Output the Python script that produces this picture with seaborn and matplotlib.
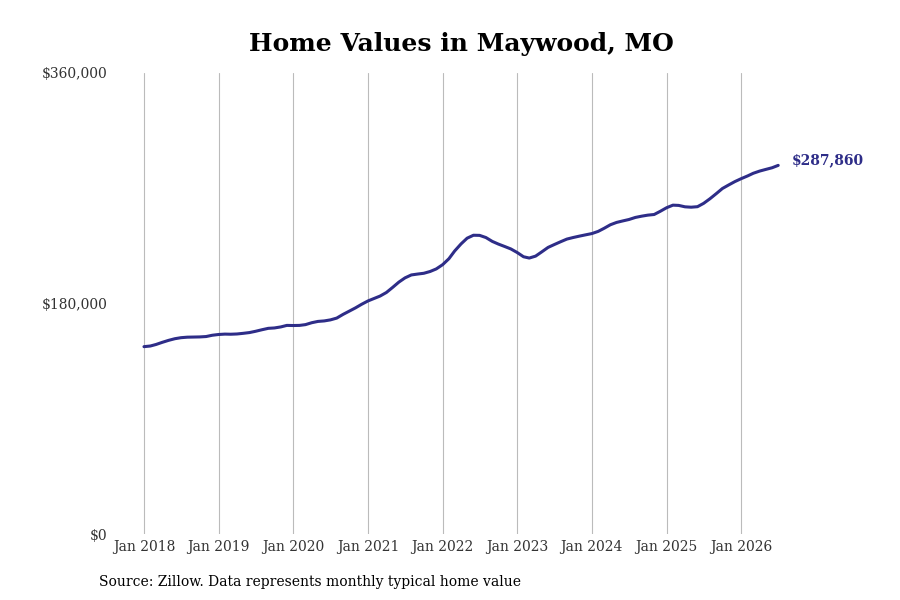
import matplotlib
matplotlib.use("Agg")
import matplotlib.pyplot as plt
import matplotlib.ticker as mticker
import seaborn as sns
import pandas as pd

start_month = "2018-01-01"
values = [
    146300, 146800, 148000, 149700, 151200, 152500, 153300, 153700, 153800, 153900, 154200, 155200,
    155800, 156100, 156000, 156200, 156700, 157300, 158300, 159500, 160600, 160900, 161700, 162900,
    162800, 162900, 163500, 165000, 166000, 166400, 167200, 168600, 171500, 174000, 176600, 179400,
    182000, 184000, 185800, 188600, 192500, 196700, 200000, 202300, 203000, 203600, 205000, 207000,
    210300, 215000, 221000, 226500, 231000, 233300, 233200, 231500, 228500, 226400, 224500, 222600,
    219800, 216500, 215500, 217000, 220300, 223800, 226000, 228200, 230300, 231500, 232600, 233600,
    234600, 236300, 238700, 241500, 243300, 244500, 245600, 247200, 248200, 249000, 249500, 252000,
    254800, 256800, 256600, 255500, 255200, 255600, 258200, 261800, 265800, 269800, 272600, 275200,
    277500, 279600, 281700, 283400, 284700, 286000, 287860,
]
tick_years = list(range(2018, 2027))
tick_labels = [f"Jan {y}" for y in tick_years]
y_ticks = [0, 180000, 360000]
title = "Home Values in Maywood, MO"
source = "Source: Zillow. Data represents monthly typical home value"
end_label = "$287,860"

dates = pd.date_range(start_month, periods=len(values), freq="MS")
df = pd.DataFrame({"date": dates, "value": values})

sns.set_theme(style="white")
plt.rcParams["font.family"] = ["DejaVu Serif"]

line_color = "#2e2d88"
fig = plt.figure(figsize=(9, 6), dpi=100)
ax = fig.add_axes([117 / 900, 66 / 600, (880 - 117) / 900, (534 - 73) / 600])

sns.lineplot(data=df, x="date", y="value", ax=ax, color=line_color, linewidth=2.2)

ax.set_ylim(0, 360000)
ax.set_xlim(pd.Timestamp("2017-08-22"), pd.Timestamp("2027-11-11"))
ax.set_yticks(y_ticks)
ax.yaxis.set_major_formatter(mticker.FuncFormatter(lambda v, p: f"${v:,.0f}"))
ax.set_xticks([pd.Timestamp(f"{y}-01-01") for y in tick_years])
ax.set_xticklabels(tick_labels)
ax.tick_params(axis="both", labelsize=10, labelcolor="#333333", length=0)
ax.tick_params(axis="x", pad=4)
ax.tick_params(axis="y", pad=7)
ax.set_xlabel("")
ax.set_ylabel("")
ax.grid(axis="x", color="#bbbbbb", linewidth=0.8)
ax.grid(axis="y", visible=False)
for s in ax.spines.values():
    s.set_visible(False)

ax.annotate(end_label, xy=(dates[-1], values[-1]), xytext=(10, 4), textcoords="offset points",
            color=line_color, fontsize=10, fontweight="bold", va="center", ha="left")

fig.text(461 / 900, 0.927, title, ha="center", va="center", fontsize=18, fontweight="bold", color="black")
fig.text(99 / 900, 1 - 582 / 600, source, ha="left", va="center", fontsize=10, color="black")

fig.savefig("out.png", dpi=100)
